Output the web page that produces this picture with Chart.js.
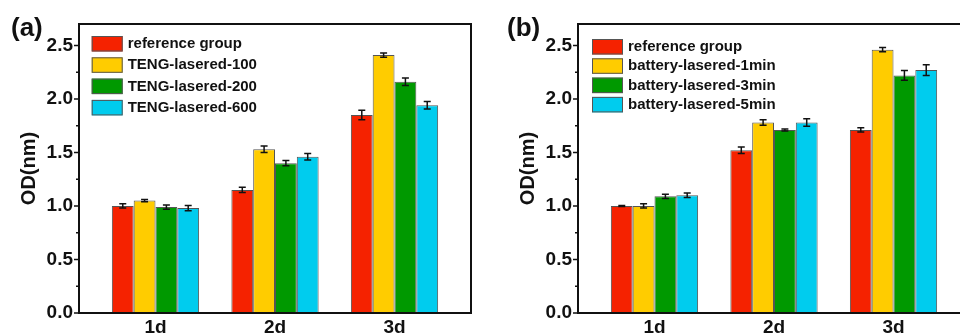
<!DOCTYPE html>
<html lang="en">
<head>
<meta charset="UTF-8">
<title>OD(nm) - lasered groups</title>
<script src="https://cdn.jsdelivr.net/npm/chart.js"></script>
<style>
  html, body { margin: 0; padding: 0; background: #fff; overflow: hidden; width: 960px; height: 336px; }
  .panel { position: absolute; top: 0; width: 480px; height: 336px; }
  #pa { left: 0; }
  #pb { left: 499px; }
</style>
</head>
<body>
<div class="panel" id="pa"><canvas id="chartA"></canvas></div>
<div class="panel" id="pb"><canvas id="chartB"></canvas></div>
<script>
// categories and axis ticks
const days = ['1d', '2d', '3d'];
const yMajor = [0, 0.5, 1.0, 1.5, 2.0, 2.5];
const yMinor = [0.25, 0.75, 1.25, 1.75, 2.25];

// panel (a)
const namesA = ['reference group', 'TENG-lasered-100', 'TENG-lasered-200', 'TENG-lasered-600'];
const refA = [1.00, 1.15, 1.85];
const teng100 = [1.05, 1.53, 2.41];
const teng200 = [0.99, 1.40, 2.16];
const teng600 = [0.98, 1.46, 1.94];
const refAErr = [0.02, 0.025, 0.045];
const teng100Err = [0.01, 0.03, 0.02];
const teng200Err = [0.02, 0.025, 0.035];
const teng600Err = [0.025, 0.03, 0.035];

// panel (b)
const namesB = ['reference group', 'battery-lasered-1min', 'battery-lasered-3min', 'battery-lasered-5min'];
const refB = [1.00, 1.52, 1.71];
const bat1 = [1.00, 1.78, 2.46];
const bat3 = [1.09, 1.71, 2.22];
const bat5 = [1.10, 1.78, 2.27];
const refBErr = [0.005, 0.03, 0.02];
const bat1Err = [0.02, 0.025, 0.02];
const bat3Err = [0.02, 0.01, 0.045];
const bat5Err = [0.02, 0.035, 0.05];

const colors = ['#f52200', '#ffcc00', '#009900', '#00ccee'];
const FONT = "'Liberation Sans', Arial, sans-serif";

function decor(cfg) {
  return {
    id: 'decor',
    afterDatasetsDraw(chart) {
      const ctx = chart.ctx, y = chart.scales.y;
      ctx.save();
      ctx.strokeStyle = '#111';
      ctx.lineWidth = 1.5;
      chart.data.datasets.forEach((ds, i) => {
        chart.getDatasetMeta(i).data.forEach((bar, j) => {
          const v = ds.data[j].y, e = ds.err[j];
          const top = y.getPixelForValue(v + e), bot = y.getPixelForValue(v - e);
          ctx.beginPath();
          ctx.moveTo(bar.x, top); ctx.lineTo(bar.x, bot);
          ctx.moveTo(bar.x - 3.5, top); ctx.lineTo(bar.x + 3.5, top);
          ctx.moveTo(bar.x - 3.5, bot); ctx.lineTo(bar.x + 3.5, bot);
          ctx.stroke();
        });
      });
      ctx.restore();
    },
    afterDraw(chart) {
      const ctx = chart.ctx, a = chart.chartArea, y = chart.scales.y;
      ctx.save();
      // frame
      ctx.strokeStyle = '#111';
      ctx.lineWidth = 2;
      ctx.strokeRect(a.left, a.top, a.right - a.left, a.bottom - a.top);
      // y tick marks
      ctx.lineWidth = 1.5;
      ctx.beginPath();
      yMajor.forEach(v => { const p = y.getPixelForValue(v); ctx.moveTo(a.left, p); ctx.lineTo(a.left - 5, p); });
      yMinor.forEach(v => { const p = y.getPixelForValue(v); ctx.moveTo(a.left, p); ctx.lineTo(a.left - 3, p); });
      ctx.stroke();
      // legend
      ctx.font = 'bold 15px ' + FONT;
      ctx.textBaseline = 'middle';
      ctx.textAlign = 'left';
      chart.data.datasets.forEach((ds, i) => {
        const bx = a.left + cfg.legX, by = a.top + cfg.legY + i * cfg.legGap;
        ctx.fillStyle = ds.backgroundColor;
        ctx.fillRect(bx, by, 31, 15.5);
        ctx.strokeStyle = '#555';
        ctx.lineWidth = 1;
        ctx.strokeRect(bx + 0.5, by + 0.5, 30, 14.5);
        ctx.fillStyle = '#111';
        ctx.fillText(ds.label, bx + 36, by + 8);
      });
      // panel label
      ctx.font = 'bold 26px ' + FONT;
      ctx.fillText(cfg.label, cfg.labX, 29);
      ctx.restore();
    }
  };
}

function makeChart(id, names, series, errs, cfg) {
  new Chart(document.getElementById(id), {
    type: 'bar',
    data: {
      datasets: names.map((n, i) => ({
        label: n,
        data: series[i].map((v, j) => ({ x: j, y: v })),
        err: errs[i],
        backgroundColor: colors[i],
        borderColor: '#555',
        borderWidth: 1,
        categoryPercentage: 0.73,
        barPercentage: 1
      }))
    },
    options: {
      responsive: true,
      maintainAspectRatio: false,
      animation: false,
      layout: { padding: { top: 24, right: 9, left: 0, bottom: 0 } },
      plugins: { legend: { display: false }, tooltip: { enabled: false } },
      scales: {
        x: {
          type: 'linear',
          offset: false,
          min: -0.64,
          max: 2.64,
          grid: { display: false, drawTicks: false },
          border: { display: false },
          afterBuildTicks: s => { s.ticks = days.map((d, i) => ({ value: i })); },
          afterFit: s => { s.height = 23; },
          ticks: {
            autoSkip: false, maxRotation: 0, padding: 3, color: '#111',
            font: { family: FONT, size: 19, weight: 'bold' },
            callback: v => days[v] ?? ''
          }
        },
        y: {
          min: 0,
          max: 2.7,
          grid: { display: false, drawTicks: false },
          border: { display: false },
          afterBuildTicks: s => { s.ticks = [...yMajor, ...yMinor].sort((p, q) => p - q).map(v => ({ value: v })); },
          afterFit: s => { s.width = 79; },
          ticks: {
            autoSkip: false, padding: 6, color: '#111',
            font: { family: FONT, size: 19, weight: 'bold' },
            callback: v => yMajor.includes(v) ? v.toFixed(1) : ''
          },
          title: {
            display: true, text: 'OD(nm)', color: '#111',
            font: { family: FONT, size: 20, weight: 'bold' },
            padding: { top: 17, bottom: 0 }
          }
        }
      }
    },
    plugins: [decor(cfg)]
  });
}

makeChart('chartA', namesA, [refA, teng100, teng200, teng600],
  [refAErr, teng100Err, teng200Err, teng600Err],
  { label: '(a)', labX: 11, legX: 12.7, legY: 12, legGap: 21.3 });
makeChart('chartB', namesB, [refB, bat1, bat3, bat5],
  [refBErr, bat1Err, bat3Err, bat5Err],
  { label: '(b)', labX: 8, legX: 14, legY: 15, legGap: 19.3 });
</script>
</body>
</html>
